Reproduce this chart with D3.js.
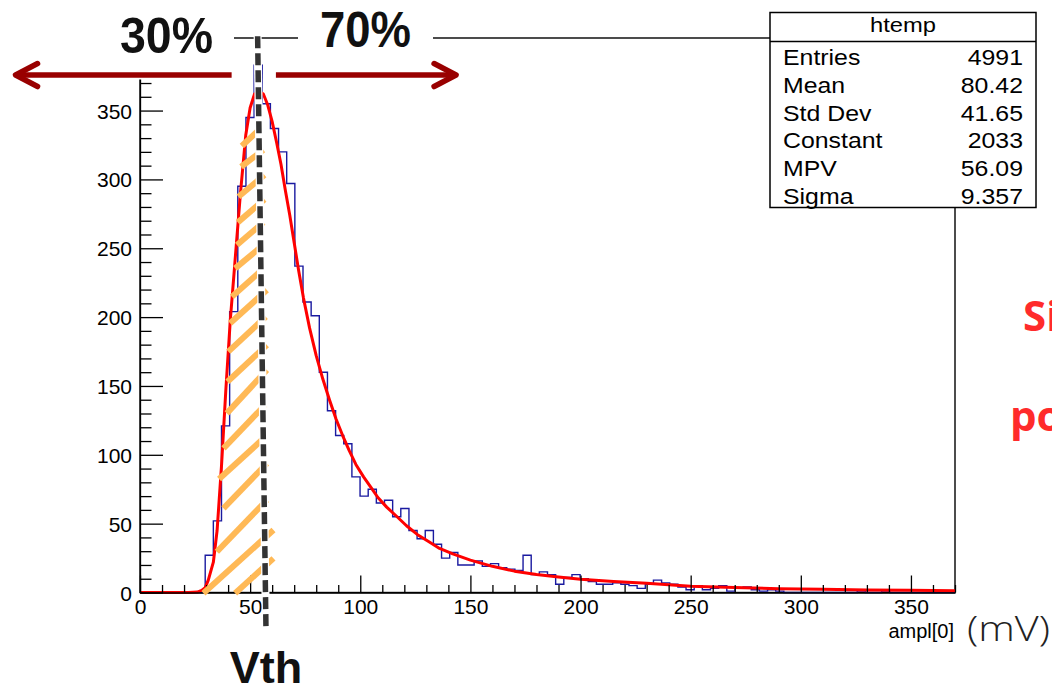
<!DOCTYPE html>
<html><head><meta charset="utf-8">
<script src="https://cdn.jsdelivr.net/npm/d3@7"></script>
<style>
html,body{margin:0;padding:0;background:#fff;}
svg{display:block;font-family:"Liberation Sans",Arial,Helvetica,sans-serif;}
</style>
</head><body>
<svg id="chart" width="1052" height="686"></svg>
<script>
// ---------------- data ----------------
const binWidth = 3.7;
const binCounts = [
  0,0,0,0,0,0,0,0,27,52,
  121,204,295,345,383,355,337,320,297,237,
  211,201,160,132,114,108,84,70,75,65,
  67,55,61,45,39,45,35,25,29,20,
  20,23,19,21,18,17,16,27,13,15,
  13,6,11,13,10,8,6,6,7,6,
  5,3,6,9,7,6,4,2,5,2,
  3,5,1,3,4,2,1,2,1,0,
  0,0,0,0,0,0,0,0,1,0,
  0,1,0,0,0,0,0,0,0,0
];
const fitX = [0,22,26,28,29.6,31,33.3,35,37,39,41,43,45.5,48,50,52,54,56,58,60,62,64,66,68,70,72,74.2,77,80,83,86,89,92,95,98,101.5,105,108,112,116.7,121,126,131,136,142,150,160,170,180,190,200,215,230,250,270,290,310,330,350,370];
const fitY = [0,0,0.3,1.5,3.5,9,22,45,92,148,198,238,288,332,352,362,364,362,354,342,327,311,292,274,254,234,214,192,172,155,140,126,114,103,93,84,76,69,62,55,48.5,42,37,32,28,23.5,19,15.5,13,11.2,9.7,8,6.7,4.6,3.6,2.8,2.3,1.9,1.6,1.3];
const xTickValues = [0,50,100,150,200,250,300,350];
const yTickValues = [0,50,100,150,200,250,300,350];
const statsTitle = "htemp";
const statsLabels = ["Entries","Mean","Std Dev","Constant","MPV","Sigma"];
const statsValues = ["4991","80.42","41.65","2033","56.09","9.357"];
// hatch segments (data units)
const hatchX1 = [46.2,45.9,44.7,44.4,44.0,43.2,41.7,40.9,40.1,39.7,39.4,37.9,35.9,37.9,34.9,28.8,43.2];
const hatchY1 = [324.3,309.2,287.4,268.8,252.4,235.4,214.8,195.5,174.9,153.1,130.1,104.7,82.4,61.1,29.6,-0.6,-0.6];
const hatchX2 = [53.5,56.0,56.5,56.5,56.0,55.0,55.3,57.6,57.1,57.6,57.6,56.8,56.8,57.6,57.6,60.6,60.6];
const hatchY2 = [335.2,321.4,303.2,285.5,268.8,251.1,234.2,219.7,200.3,179.7,161.6,136.2,112.9,93.8,67.2,45.4,24.8];
// annotations (data units)
const vthLine = {x1:53.4, y1:404, x2:57.2, y2:-27};
const arrowY = 375.8;
const leftArrow = {from:41.6, to:-56.5};
const rightArrow = {from:61.7, to:143.5};

// ---------------- drawing ----------------
const svg = d3.select("#chart");
const x = d3.scaleLinear().domain([0,370]).range([140,955]);
const y = d3.scaleLinear().domain([0,402.7]).range([592.5,38]);

// frame
svg.append("rect").attr("x",x(0)).attr("y",y(402.7))
  .attr("width",x(370)-x(0)).attr("height",y(0)-y(402.7))
  .attr("fill","none").attr("stroke","#000").attr("stroke-width",1.4);

// histogram step outline
const pts = [[0,0]];
binCounts.forEach((c,i)=>{ pts.push([i*binWidth,c]); pts.push([(i+1)*binWidth,c]); });
pts.push([binCounts.length*binWidth,0]);
svg.append("path")
  .attr("d", d3.line().x(d=>x(d[0])).y(d=>y(d[1]))(pts))
  .attr("fill","none").attr("stroke","#1a1aa0").attr("stroke-width",1.4);

// fit curve
svg.append("path")
  .attr("d", d3.line().x((d,i)=>x(fitX[i])).y((d,i)=>y(fitY[i]))(fitX))
  .attr("fill","none").attr("stroke","#ff0000").attr("stroke-width",3)
  .attr("stroke-linejoin","round");

// axes
const minorY = d3.range(0,403,10).filter(v=>v%50!==0);
const minorX = d3.range(0,371,10).filter(v=>v%50!==0);
const fontAxis = "21px";
const gy = svg.append("g").attr("transform",`translate(${x(0)},0)`);
gy.call(d3.axisLeft(y).tickValues(yTickValues).tickSize(-23).tickSizeOuter(0).tickPadding(8).tickFormat(d3.format("d")));
gy.append("g").call(d3.axisLeft(y).tickValues(minorY).tickSize(-11.5).tickSizeOuter(0).tickFormat(""))
  .select(".domain").remove();
const gx = svg.append("g").attr("transform",`translate(0,${y(0)})`);
gx.call(d3.axisBottom(x).tickValues(xTickValues).tickSize(-17).tickSizeOuter(0).tickPadding(7).tickFormat(d3.format("d")));
gx.append("g").call(d3.axisBottom(x).tickValues(minorX).tickSize(-7.5).tickSizeOuter(0).tickFormat(""))
  .select(".domain").remove();
svg.selectAll(".tick text").attr("font-size",fontAxis).attr("fill","#000")
  .attr("font-family",'"Liberation Sans",Arial,sans-serif');
svg.selectAll(".domain, .tick line").attr("stroke","#000").attr("stroke-width",1.3);
gy.selectAll(".tick text").attr("dy","0.36em");

// hatch
svg.append("g").selectAll("line").data(hatchX1).join("line")
  .attr("x1",(d,i)=>x(hatchX1[i])).attr("y1",(d,i)=>y(hatchY1[i]))
  .attr("x2",(d,i)=>x(hatchX2[i])).attr("y2",(d,i)=>y(hatchY2[i]))
  .attr("stroke","#ffb956").attr("stroke-width",6);

// Vth dashed line
svg.append("line").attr("x1",x(vthLine.x1)).attr("y1",y(vthLine.y1)).attr("x2",x(vthLine.x2)).attr("y2",y(vthLine.y2))
  .attr("stroke","#fff").attr("stroke-width",8);
svg.append("line").attr("x1",x(vthLine.x1)).attr("y1",y(vthLine.y1)).attr("x2",x(vthLine.x2)).attr("y2",y(vthLine.y2))
  .attr("stroke","#333").attr("stroke-width",5.5).attr("stroke-dasharray","12,5");

// white label backgrounds
svg.append("rect").attr("x",98).attr("y",0).attr("width",136).attr("height",79.5).attr("fill","#fff");
svg.append("rect").attr("x",298).attr("y",0).attr("width",135).attr("height",60).attr("fill","#fff");

// arrows
const arrowColor = "#990000";
function arrow(a, dir){
  const ay = y(arrowY);
  svg.append("line").attr("x1",x(a.from)).attr("y1",ay).attr("x2",x(a.to)-dir*3).attr("y2",ay)
    .attr("stroke",arrowColor).attr("stroke-width",5.5);
  const tx = x(a.to);
  svg.append("path").attr("d",`M${tx-dir*22},${ay-11.5}L${tx},${ay}L${tx-dir*22},${ay+11.5}`)
    .attr("fill","none").attr("stroke",arrowColor).attr("stroke-width",5.5)
    .attr("stroke-linecap","round").attr("stroke-linejoin","round");
}
arrow(leftArrow,-1);
arrow(rightArrow,1);

// percentages
svg.append("text").attr("x",120).attr("y",53).attr("font-size",50).attr("font-weight","bold")
  .attr("textLength",93).attr("lengthAdjust","spacingAndGlyphs").attr("fill","#111").text("30%");
svg.append("text").attr("x",320).attr("y",47).attr("font-size",50).attr("font-weight","bold")
  .attr("textLength",91).attr("lengthAdjust","spacingAndGlyphs").attr("fill","#111").text("70%");

// Vth
svg.append("text").attr("x",266).attr("y",683).attr("text-anchor","middle").attr("font-size",45)
  .attr("font-weight","bold").attr("fill","#111").text("Vth");

// axis titles
svg.append("text").attr("x",954).attr("y",638).attr("text-anchor","end").attr("font-size",20).text("ampl[0]");
svg.append("text").attr("x",967).attr("y",641).attr("font-size",34).attr("font-family",'"Open Sans",sans-serif')
  .attr("font-weight",300).attr("textLength",83).attr("lengthAdjust","spacingAndGlyphs").attr("fill","#222").text("(mV)");

// side text (cut off at the right edge, as in the source slide)
svg.append("text").attr("x",1023).attr("y",331).attr("font-size",42).attr("font-weight","bold")
  .attr("font-family",'"Open Sans",sans-serif').attr("fill","#ff2b2b").text("Si");
svg.append("text").attr("x",1010).attr("y",431).attr("font-size",42).attr("font-weight","bold")
  .attr("font-family",'"Open Sans",sans-serif').attr("fill","#ff2b2b").text("po");

// stats box
const sb = {x0:770, x1:1036, y0:12.5, y1:207.5, ySep:41.5};
const sx = 1.13;
svg.append("rect").attr("x",sb.x0).attr("y",sb.y0).attr("width",sb.x1-sb.x0).attr("height",sb.y1-sb.y0)
  .attr("fill","#fff").attr("stroke","#000").attr("stroke-width",1.5);
svg.append("line").attr("x1",sb.x0).attr("x2",sb.x1).attr("y1",sb.ySep).attr("y2",sb.ySep)
  .attr("stroke","#000").attr("stroke-width",1.5);
svg.append("text").attr("transform",`translate(${(sb.x0+sb.x1)/2},32) scale(${sx},1)`)
  .attr("text-anchor","middle").attr("font-size",21).text(statsTitle);
statsLabels.forEach((lab,i)=>{
  const by = 65 + i*27.8;
  svg.append("text").attr("transform",`translate(783,${by}) scale(${sx},1)`).attr("font-size",22).text(lab);
  svg.append("text").attr("transform",`translate(1023,${by}) scale(${sx},1)`)
    .attr("text-anchor","end").attr("font-size",22).text(statsValues[i]);
});
</script>
</body></html>
